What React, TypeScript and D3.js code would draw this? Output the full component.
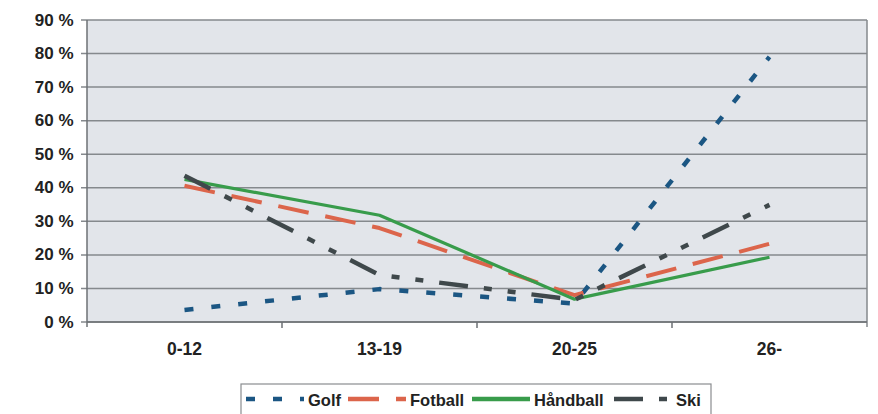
import React, { useEffect } from "react";
import * as d3 from "d3";

// age groups on the x axis
const categories = ["0-12", "13-19", "20-25", "26-"];

// share per age group, in percent
const golf = [3.6, 9.8, 5.5, 79];
const fotball = [40.6, 28, 8, 23.3];
const handball = [42.5, 31.8, 6.8, 19.3];
const ski = [43.6, 14, 6.6, 34.9];

const yTicks = [0, 10, 20, 30, 40, 50, 60, 70, 80, 90];

const series = [
  { name: "Golf", values: golf, color: "#1b5683", dash: "9,18", width: 4.5 },
  { name: "Fotball", values: fotball, color: "#dc654b", dash: "31,17", width: 4 },
  { name: "Håndball", values: handball, color: "#389c4b", dash: null, width: 3.2 },
  { name: "Ski", values: ski, color: "#3f484b", dash: "29,16,8,16,8,16", width: 4.5 },
];

const legendPos = [
  { x: 246, tx: 308 },
  { x: 348, tx: 410 },
  { x: 472, tx: 534 },
  { x: 614, tx: 676 },
];

export default function App() {
  useEffect(() => {
    document.body.style.margin = "0";
  }, []);

  const W = 878, H = 414;
  const left = 87, right = 867, top = 20, bottom = 322;

  const x = d3.scaleBand<string>().domain(categories).range([left, right]);
  const y = d3.scaleLinear().domain([0, 90]).range([bottom, top]);
  const cx = (c: string) => (x(c) as number) + x.bandwidth() / 2;

  const line = d3
    .line<number>()
    .x((_, i) => cx(categories[i]))
    .y((d) => y(d));

  const font = "'Liberation Sans', Arial, sans-serif";

  return (
    <svg width={W} height={H} style={{ display: "block" }} fontFamily={font}>
      <rect x={0} y={0} width={W} height={H} fill="#fff" />
      <rect x={left} y={top} width={right - left} height={bottom - top} fill="#e2e5ea" />

      {/* gridlines + y labels */}
      {yTicks.map((t) => (
        <g key={t}>
          <line x1={left - 6} x2={right} y1={y(t)} y2={y(t)} stroke="#85898d" strokeWidth={1.5} />
          <text
            x={73.5}
            y={y(t)}
            textAnchor="end"
            dominantBaseline="central"
            fontSize={17}
            fontWeight="bold"
            fill="#222"
          >
            {t} %
          </text>
        </g>
      ))}

      {/* axes */}
      <line x1={left} x2={left} y1={top} y2={bottom + 5} stroke="#6d7175" strokeWidth={1.5} />
      <line x1={right} x2={right} y1={top} y2={bottom + 5} stroke="#85898d" strokeWidth={1.5} />
      <line x1={left} x2={right} y1={bottom} y2={bottom} stroke="#6d7175" strokeWidth={1.5} />
      {categories.slice(1).map((c) => (
        <line key={c} x1={x(c)} x2={x(c)} y1={bottom} y2={bottom + 6} stroke="#6d7175" strokeWidth={1.5} />
      ))}
      {categories.map((c) => (
        <text
          key={c}
          x={cx(c)}
          y={349}
          textAnchor="middle"
          dominantBaseline="central"
          fontSize={17.5}
          fontWeight="bold"
          fill="#222"
        >
          {c}
        </text>
      ))}

      {/* series */}
      {series.map((s) => (
        <path
          key={s.name}
          d={line(s.values) || ""}
          fill="none"
          stroke={s.color}
          strokeWidth={s.width}
          strokeDasharray={s.dash || undefined}
          strokeLinejoin="round"
        />
      ))}

      {/* legend */}
      <rect x={241} y={384} width={470} height={40} fill="#fff" stroke="#8a8d90" strokeWidth={1.2} />
      {series.map((s, i) => (
        <g key={s.name}>
          <line
            x1={legendPos[i].x}
            x2={legendPos[i].x + 58}
            y1={399}
            y2={399}
            stroke={s.color}
            strokeWidth={4.5}
            strokeDasharray={s.dash || undefined}
          />
          <text
            x={legendPos[i].tx}
            y={400}
            dominantBaseline="central"
            fontSize={16.5}
            fontWeight="bold"
            fill="#222"
          >
            {s.name}
          </text>
        </g>
      ))}
    </svg>
  );
}
